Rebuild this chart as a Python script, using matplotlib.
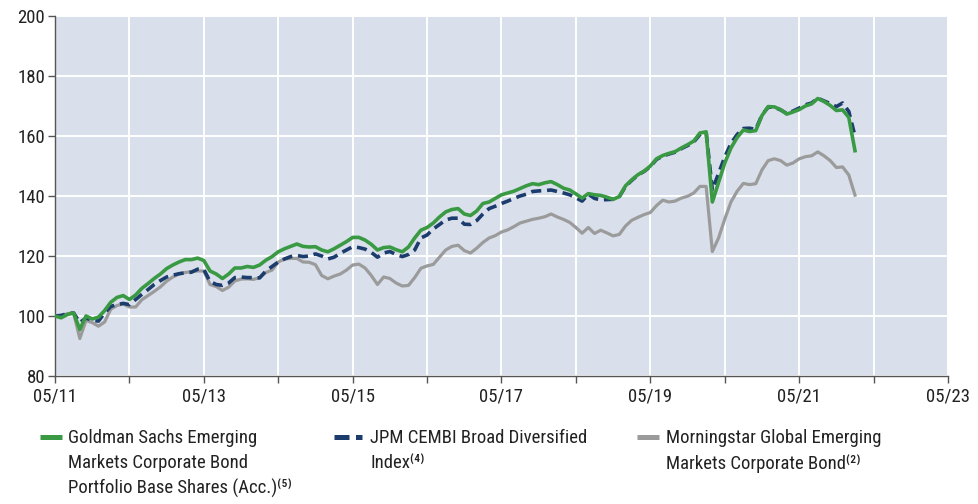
import numpy as np
import matplotlib
matplotlib.use("Agg")
from matplotlib import pyplot as plt
from matplotlib.lines import Line2D

plt.rcParams['font.family'] = ['Roboto Condensed', 'Archivo Narrow', 'DejaVu Sans']

# monthly values, 05/2011 .. 02/2022
goldman = [
    100, 99.4, 100.5, 101, 95.5, 100, 99, 99.6, 101.8, 104.6,
    106.2, 106.8, 105.5, 107, 109.2, 110.8, 112.5, 114, 115.8, 117,
    118, 118.8, 118.8, 119.3, 118.5, 115, 114, 112.5, 114, 116,
    116, 116.5, 116.2, 117, 118.6, 119.8, 121.4, 122.4, 123.2, 124,
    123.2, 123, 123.1, 122, 121.4, 122.4, 123.6, 124.8, 126.2, 126.2,
    125.3, 123.9, 122, 122.8, 123, 122.1, 121.4, 123, 126, 128.6,
    129.5, 131, 133, 134.7, 135.5, 135.8, 134, 133.5, 135, 137.5,
    138, 139.2, 140.4, 141, 141.6, 142.5, 143.4, 144.1, 143.8, 144.4,
    144.8, 143.8, 142.6, 142, 140.7, 139.3, 140.8, 140.4, 140.2, 139.6,
    138.9, 139.8, 143.4, 145.4, 147.1, 148.3, 150, 152.4, 153.5, 154.2,
    154.8, 156, 157.1, 158.3, 161, 161.4, 138, 144.5, 151, 156,
    159.5, 162, 161.5, 161.8, 166.8, 169.8, 169.7, 168.8, 167.3, 168,
    168.8, 170, 170.7, 172.5, 171.5, 170.2, 168.5, 168.7, 166.2, 155.1,
]
jpm = [
    100, 100.2, 100.8, 101, 97.8, 99.3, 98.6, 98.3, 101, 103.2,
    103.8, 104.2, 103.8, 105.5, 107.2, 108.8, 110.5, 111.8, 113, 113.6,
    114.1, 114.4, 114.6, 115.6, 115.5, 111.5, 110.5, 110.2, 111, 112.8,
    113, 112.8, 112.8, 112.7, 115, 116.5, 118, 119, 119.8, 120.2,
    119.8, 120, 120.7, 120, 119, 119.6, 120.9, 122, 123.1, 122.8,
    122.3, 121.2, 119.6, 121, 121.5, 120.5, 119.8, 120.5, 122, 126,
    127, 129, 130.5, 132, 132.6, 132.6, 130.6, 130.5, 131.8, 134,
    135.8, 136.6, 137.5, 138.3, 139.2, 140, 140.6, 141.5, 141.7, 141.8,
    142, 141.5, 141, 140.4, 139.4, 138.3, 140.6, 139.2, 138.7, 138.8,
    138.9, 139.8, 143.2, 145.2, 147, 148.2, 149.8, 152.2, 153.3, 154,
    154.6, 155.8, 156.8, 158, 160.5, 161.2, 142, 147.5, 153, 157.5,
    160.5, 162.5, 162.6, 162.2, 167, 169.6, 169.6, 168.7, 167.5, 168.3,
    169.3, 170.4, 171, 172.6, 171.7, 170.8, 169.8, 171, 168.2, 160,
]
morningstar = [
    100, 99.6, 100.8, 101, 92.5, 98.5, 97.8, 96.6, 98, 102.3,
    103.5, 104, 103, 103, 105.4, 106.8, 108.2, 109.7, 111.6, 113,
    114, 114.5, 114.8, 115, 115, 110.5, 109.8, 108.5, 109.6, 111.7,
    112.3, 112.4, 112.2, 112.8, 114.5, 115.3, 118, 119, 119.2, 119.2,
    118, 117.9, 117.1, 113.5, 112.4, 113.3, 114, 115.3, 117, 117.3,
    116, 113.5, 110.5, 113, 112.5, 111, 110, 110.2, 112.8, 115.9,
    116.7, 117.2, 119.6, 122, 123.2, 123.6, 121.8, 121, 122.6, 124.5,
    126, 126.8, 128, 128.7, 129.8, 131, 131.6, 132.2, 132.6, 133.1,
    134, 133, 132.2, 131.2, 129.5, 127.6, 129.5, 127.5, 128.6, 127.7,
    126.7, 127.2, 130, 131.9, 132.9, 133.8, 134.5, 136.8, 138.6, 138,
    138.3, 139.3, 139.9, 141, 143.2, 143.2, 121.5, 126, 132.3, 138,
    141.6, 144.2, 143.8, 144.1, 148.7, 151.8, 152.4, 151.8, 150.3, 151,
    152.4, 153.1, 153.4, 154.7, 153.4, 151.8, 149.5, 149.7, 147, 140.3,
]

x_labels = ["05/11", "", "05/13", "", "05/15", "", "05/17", "",
            "05/19", "", "05/21", "", "05/23"]
y_ticks = [80, 100, 120, 140, 160, 180, 200]

labels = [
    "Goldman Sachs Emerging\nMarkets Corporate Bond\nPortfolio Base Shares (Acc.)⁽⁵⁾",
    "JPM CEMBI Broad Diversified\nIndex⁽⁴⁾",
    "Morningstar Global Emerging\nMarkets Corporate Bond⁽²⁾",
]

green = "#3a9a44"
navy = "#1c3c6e"
grey = "#9b9b9b"
axis_col = "#555555"

W, H = 979, 504
fig = plt.figure(figsize=(W / 100, H / 100), dpi=100)
ax = fig.add_axes([55 / W, 1 - 376 / H, (948 - 55) / W, (376 - 16) / H])
ax.set_facecolor("#d9e0eb")

months = np.arange(len(goldman))
ax.plot(months, morningstar, color=grey, lw=2.3, zorder=3)
ax.plot(months, jpm, color=navy, lw=2.6, dashes=(2.8, 1.6), zorder=4)
ax.plot(months, goldman, color=green, lw=2.6, zorder=5)

ax.set_xlim(0, 144)
ax.set_ylim(80, 200)
ax.set_xticks(np.arange(0, 145, 12))
ax.set_xticklabels(x_labels)
ax.set_yticks(y_ticks)
ax.grid(True, color="white", lw=1.4, zorder=1)
ax.set_axisbelow(True)

for s in ["top", "right"]:
    ax.spines[s].set_visible(False)
for s in ["left", "bottom"]:
    ax.spines[s].set_color(axis_col)
    ax.spines[s].set_linewidth(1.0)
ax.tick_params(axis="both", colors=axis_col, labelcolor="#222222",
               labelsize=13.5, length=5, width=1.0)
ax.tick_params(axis="x", pad=3)
ax.tick_params(axis="y", pad=2)

# legend drawn by hand so the key sits at the first text line
handle_x = [(40, 62), (334, 362), (637, 659)]
text_x = [68, 370, 666]
styles = [dict(color=green, lw=3.6),
          dict(color=navy, lw=3.6, dashes=(3.0, 1.3)),
          dict(color=grey, lw=3.6)]
for (x0, x1), tx, st, lab in zip(handle_x, text_x, styles, labels):
    fig.add_artist(Line2D([x0 / W, x1 / W], [1 - 437 / H] * 2,
                          transform=fig.transFigure, solid_capstyle="butt",
                          dash_capstyle="butt", **st))
    fig.text(tx / W, 1 - 429 / H, lab, ha="left", va="top",
             fontsize=13.5, color="#222222", linespacing=1.47)

fig.savefig("out.png", dpi=100)
